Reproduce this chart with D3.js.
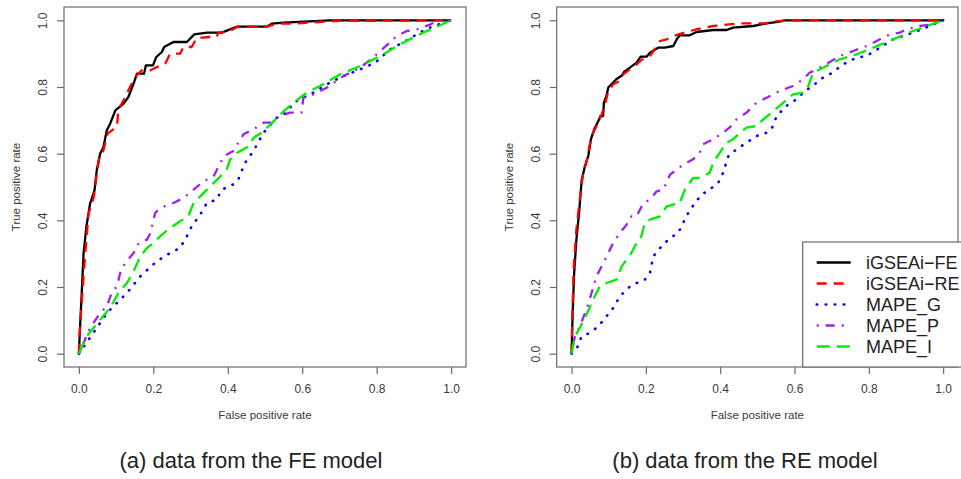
<!DOCTYPE html>
<html>
<head>
<meta charset="utf-8">
<script src="https://cdn.jsdelivr.net/npm/d3@7"></script>
<style>
  html, body { margin: 0; padding: 0; background: #fff; }
  svg { display: block; font-family: "Liberation Sans", Arial, Helvetica, sans-serif; }
</style>
</head>
<body>
<svg id="chart" width="961" height="479"></svg>
<script>
// ROC curves (false positive rate, true positive rate) for each method.
// Panel (a): data simulated from the FE model
const feModel_iGSEAiFE = [[0,0],[0.004,0.1],[0.008,0.19],[0.0125,0.30],[0.02,0.38],[0.03,0.45],[0.042,0.49],[0.048,0.55],[0.057,0.60],[0.066,0.62],[0.075,0.67],[0.084,0.69],[0.098,0.73],[0.12,0.75],[0.133,0.77],[0.147,0.81],[0.156,0.84],[0.175,0.84],[0.18,0.865],[0.199,0.865],[0.208,0.89],[0.223,0.905],[0.229,0.92],[0.254,0.935],[0.29,0.935],[0.31,0.958],[0.344,0.963],[0.384,0.963],[0.406,0.973],[0.426,0.981],[0.505,0.981],[0.518,0.99],[0.55,0.993],[0.675,1.0],[1,1]];
const feModel_iGSEAiRE = [[0,0],[0.002,0.06],[0.008,0.16],[0.017,0.30],[0.026,0.42],[0.04,0.47],[0.048,0.54],[0.055,0.59],[0.066,0.61],[0.077,0.66],[0.089,0.67],[0.102,0.68],[0.106,0.73],[0.12,0.76],[0.133,0.79],[0.151,0.83],[0.169,0.85],[0.192,0.85],[0.21,0.86],[0.232,0.87],[0.245,0.90],[0.272,0.90],[0.281,0.92],[0.303,0.92],[0.317,0.948],[0.335,0.948],[0.348,0.95],[0.37,0.95],[0.375,0.963],[0.406,0.968],[0.426,0.981],[0.505,0.981],[0.532,0.99],[0.576,0.99],[0.684,0.998],[1,1]];
const feModel_MAPEG = [[0,0],[0.02,0.032],[0.048,0.077],[0.075,0.122],[0.102,0.152],[0.129,0.182],[0.165,0.232],[0.209,0.277],[0.245,0.302],[0.272,0.317],[0.29,0.352],[0.303,0.382],[0.326,0.417],[0.344,0.452],[0.37,0.462],[0.384,0.492],[0.415,0.508],[0.428,0.522],[0.446,0.572],[0.469,0.608],[0.496,0.663],[0.532,0.708],[0.558,0.723],[0.577,0.753],[0.594,0.763],[0.63,0.783],[0.666,0.808],[0.711,0.833],[0.756,0.853],[0.796,0.873],[0.836,0.913],[0.872,0.934],[0.917,0.964],[0.953,0.983],[1,1]];
const feModel_MAPEP = [[0,0],[0.0125,0.032],[0.03,0.077],[0.057,0.122],[0.075,0.142],[0.088,0.182],[0.102,0.202],[0.111,0.242],[0.124,0.272],[0.147,0.302],[0.158,0.327],[0.17,0.337],[0.183,0.342],[0.192,0.362],[0.205,0.422],[0.218,0.437],[0.254,0.452],[0.281,0.467],[0.308,0.492],[0.335,0.517],[0.362,0.532],[0.389,0.592],[0.415,0.608],[0.442,0.658],[0.469,0.673],[0.496,0.693],[0.514,0.693],[0.54,0.713],[0.567,0.723],[0.598,0.723],[0.603,0.768],[0.63,0.778],[0.666,0.798],[0.711,0.833],[0.756,0.858],[0.8,0.898],[0.836,0.934],[0.854,0.953],[0.881,0.968],[0.908,0.973],[0.943,0.987],[0.961,0.998],[1,1]];
const feModel_MAPEI = [[0,0],[0.021,0.052],[0.057,0.102],[0.084,0.137],[0.106,0.182],[0.129,0.212],[0.147,0.247],[0.165,0.292],[0.183,0.317],[0.2,0.332],[0.218,0.352],[0.245,0.377],[0.272,0.397],[0.294,0.412],[0.308,0.452],[0.326,0.472],[0.344,0.492],[0.38,0.532],[0.397,0.552],[0.406,0.582],[0.424,0.602],[0.456,0.622],[0.469,0.647],[0.496,0.667],[0.523,0.697],[0.55,0.727],[0.577,0.753],[0.612,0.783],[0.648,0.803],[0.702,0.838],[0.756,0.863],[0.81,0.893],[0.863,0.928],[0.917,0.959],[1,1]];

// Panel (b): data simulated from the RE model
const reModel_iGSEAiFE = [[0,0],[0.003,0.122],[0.007,0.242],[0.013,0.342],[0.021,0.432],[0.027,0.518],[0.036,0.563],[0.045,0.593],[0.052,0.643],[0.061,0.673],[0.072,0.698],[0.078,0.713],[0.085,0.713],[0.087,0.753],[0.094,0.774],[0.099,0.799],[0.108,0.809],[0.121,0.824],[0.135,0.834],[0.141,0.845],[0.157,0.858],[0.175,0.873],[0.186,0.891],[0.202,0.891],[0.211,0.903],[0.233,0.918],[0.251,0.918],[0.274,0.923],[0.283,0.943],[0.291,0.955],[0.318,0.955],[0.336,0.965],[0.381,0.971],[0.417,0.971],[0.435,0.978],[0.489,0.983],[0.525,0.991],[0.56,0.996],[0.574,1.0],[1,1]];
const reModel_iGSEAiRE = [[0,0],[0.002,0.112],[0.006,0.262],[0.013,0.372],[0.022,0.462],[0.031,0.542],[0.04,0.573],[0.048,0.623],[0.058,0.663],[0.072,0.693],[0.081,0.718],[0.09,0.748],[0.099,0.788],[0.112,0.808],[0.13,0.818],[0.139,0.838],[0.157,0.853],[0.175,0.868],[0.188,0.881],[0.211,0.893],[0.229,0.923],[0.238,0.938],[0.256,0.943],[0.274,0.953],[0.309,0.965],[0.336,0.973],[0.381,0.983],[0.453,0.991],[0.525,0.991],[0.534,0.996],[0.587,1.0],[1,1]];
const reModel_MAPEG = [[0,0],[0.013,0.012],[0.027,0.052],[0.049,0.062],[0.072,0.082],[0.094,0.112],[0.112,0.137],[0.13,0.172],[0.152,0.197],[0.175,0.212],[0.197,0.222],[0.211,0.242],[0.22,0.292],[0.242,0.322],[0.265,0.347],[0.287,0.362],[0.3,0.392],[0.314,0.422],[0.332,0.452],[0.35,0.477],[0.377,0.497],[0.395,0.513],[0.408,0.543],[0.422,0.593],[0.444,0.613],[0.471,0.633],[0.498,0.653],[0.525,0.663],[0.538,0.673],[0.552,0.713],[0.578,0.743],[0.605,0.763],[0.628,0.788],[0.65,0.803],[0.668,0.823],[0.695,0.838],[0.731,0.868],[0.767,0.888],[0.794,0.893],[0.83,0.918],[0.865,0.943],[0.919,0.963],[0.964,0.983],[1,1]];
const reModel_MAPEP = [[0,0],[0.009,0.052],[0.022,0.082],[0.04,0.132],[0.054,0.182],[0.067,0.232],[0.081,0.262],[0.099,0.302],[0.112,0.332],[0.13,0.362],[0.148,0.387],[0.161,0.412],[0.175,0.412],[0.193,0.452],[0.211,0.462],[0.229,0.487],[0.247,0.492],[0.265,0.537],[0.283,0.552],[0.3,0.567],[0.327,0.583],[0.345,0.603],[0.354,0.628],[0.381,0.643],[0.408,0.663],[0.435,0.688],[0.444,0.703],[0.471,0.723],[0.498,0.753],[0.525,0.768],[0.56,0.788],[0.596,0.803],[0.623,0.823],[0.641,0.843],[0.677,0.863],[0.722,0.893],[0.758,0.908],[0.794,0.923],[0.83,0.943],[0.857,0.958],[0.883,0.963],[0.901,0.973],[0.937,0.983],[0.973,0.988],[1,1]];
const reModel_MAPEI = [[0,0],[0.009,0.052],[0.022,0.077],[0.04,0.117],[0.058,0.162],[0.076,0.202],[0.094,0.212],[0.121,0.222],[0.135,0.262],[0.148,0.282],[0.161,0.302],[0.175,0.332],[0.188,0.352],[0.197,0.392],[0.211,0.402],[0.238,0.412],[0.256,0.442],[0.291,0.452],[0.305,0.492],[0.327,0.527],[0.345,0.527],[0.372,0.543],[0.381,0.573],[0.399,0.603],[0.417,0.633],[0.435,0.643],[0.453,0.663],[0.471,0.678],[0.498,0.683],[0.516,0.703],[0.543,0.728],[0.57,0.753],[0.596,0.778],[0.623,0.783],[0.637,0.803],[0.65,0.843],[0.686,0.863],[0.722,0.883],[0.767,0.898],[0.812,0.918],[0.865,0.943],[0.919,0.968],[1,1]];

const seriesNames = ["iGSEAi\u2212FE", "iGSEAi\u2212RE", "MAPE_G", "MAPE_P", "MAPE_I"];
const seriesColors = ["#000000", "#ff0000", "#0000ff", "#a020f0", "#00ee00"];
const seriesDashes = [null, "10,7", "0.5,8.5", "2,7,9,7", "13,7"];
const axisTicks = [0, 0.2, 0.4, 0.6, 0.8, 1.0];
const panelCaptions = ["(a) data from the FE model", "(b) data from the RE model"];
const xAxisTitle = "False positive rate";
const yAxisTitle = "True positive rate";

const panels = [
  { curves: [feModel_iGSEAiFE, feModel_iGSEAiRE, feModel_MAPEG, feModel_MAPEP, feModel_MAPEI],
    left: 64, right: 466, caption: panelCaptions[0], captionX: 251, legend: false },
  { curves: [reModel_iGSEAiFE, reModel_iGSEAiRE, reModel_MAPEG, reModel_MAPEP, reModel_MAPEI],
    left: 556.7, right: 958, caption: panelCaptions[1], captionX: 745, legend: true }
];

const svg = d3.select("#chart");
const plotTop = 7, plotBottom = 367;
const frameColor = "#6b6b6b";
const textColor = "#3a3a3a";

panels.forEach(p => {
  const x = d3.scaleLinear().domain([-0.04, 1.04]).range([p.left, p.right]);
  const y = d3.scaleLinear().domain([-0.04, 1.04]).range([plotBottom, plotTop]);
  const g = svg.append("g");

  // curves
  const line = d3.line().x(d => x(d[0])).y(d => y(d[1]));
  p.curves.forEach((c, i) => {
    g.append("path")
      .datum(c)
      .attr("d", line)
      .attr("fill", "none")
      .attr("stroke", seriesColors[i])
      .attr("stroke-width", i === 2 ? 2.6 : 2.3)
      .attr("stroke-linejoin", "round")
      .attr("stroke-linecap", i === 2 ? "round" : "butt")
      .attr("stroke-dasharray", seriesDashes[i]);
  });

  // plot frame
  g.append("rect")
    .attr("x", p.left).attr("y", plotTop)
    .attr("width", p.right - p.left).attr("height", plotBottom - plotTop)
    .attr("fill", "none").attr("stroke", frameColor).attr("stroke-width", 1.2);

  // x axis
  const xa = g.append("g")
    .attr("transform", `translate(0,${plotBottom})`)
    .call(d3.axisBottom(x).tickValues(axisTicks).tickFormat(d3.format(".1f"))
      .tickSize(7).tickPadding(10).tickSizeOuter(0));
  xa.select(".domain").remove();
  xa.selectAll("line").attr("stroke", frameColor).attr("stroke-width", 1.2);
  xa.selectAll("text").attr("font-size", 12).attr("fill", textColor)
    .attr("font-family", "Liberation Sans, Arial, sans-serif");

  // y axis with labels parallel to the axis
  const ya = g.append("g")
    .attr("transform", `translate(${p.left},0)`)
    .call(d3.axisLeft(y).tickValues(axisTicks).tickFormat(d3.format(".1f"))
      .tickSize(7).tickSizeOuter(0));
  ya.select(".domain").remove();
  ya.selectAll("line").attr("stroke", frameColor).attr("stroke-width", 1.2);
  ya.selectAll("text")
    .attr("x", null)
    .attr("text-anchor", "middle")
    .attr("transform", "translate(-21,0) rotate(-90)")
    .attr("dy", "0.35em")
    .attr("font-size", 12).attr("fill", textColor)
    .attr("font-family", "Liberation Sans, Arial, sans-serif");

  // axis titles
  g.append("text")
    .attr("x", (p.left + p.right) / 2).attr("y", 415)
    .attr("dy", "0.35em").attr("text-anchor", "middle")
    .attr("font-size", 11.5).attr("fill", textColor)
    .text(xAxisTitle);
  g.append("text")
    .attr("transform", `translate(${p.left - 48},${(plotTop + plotBottom) / 2}) rotate(-90)`)
    .attr("dy", "0.35em").attr("text-anchor", "middle")
    .attr("font-size", 11.5).attr("fill", textColor)
    .text(yAxisTitle);

  // panel caption
  g.append("text")
    .attr("x", p.captionX).attr("y", 460)
    .attr("dy", "0.35em").attr("text-anchor", "middle")
    .attr("font-size", 22).attr("fill", "#222")
    .text(p.caption);

  // legend
  if (p.legend) {
    const lx = 802.7, ly = 242;
    const lg = g.append("g");
    lg.append("rect")
      .attr("x", lx).attr("y", ly)
      .attr("width", 962 - lx).attr("height", plotBottom - ly)
      .attr("fill", "#fff").attr("stroke", frameColor).attr("stroke-width", 1.2);
    seriesNames.forEach((name, i) => {
      const yy = 262.5 + i * 21;
      lg.append("line")
        .attr("x1", 816.7).attr("x2", 850.7)
        .attr("y1", yy).attr("y2", yy)
        .attr("stroke", seriesColors[i]).attr("stroke-width", i === 2 ? 2.6 : 2.3)
        .attr("stroke-linecap", i === 2 ? "round" : "butt")
        .attr("stroke-dasharray", seriesDashes[i]);
      lg.append("text")
        .attr("x", 866).attr("y", yy)
        .attr("dy", "0.35em")
        .attr("font-size", 18).attr("fill", "#222")
        .text(name);
    });
  }
});
</script>
</body>
</html>
